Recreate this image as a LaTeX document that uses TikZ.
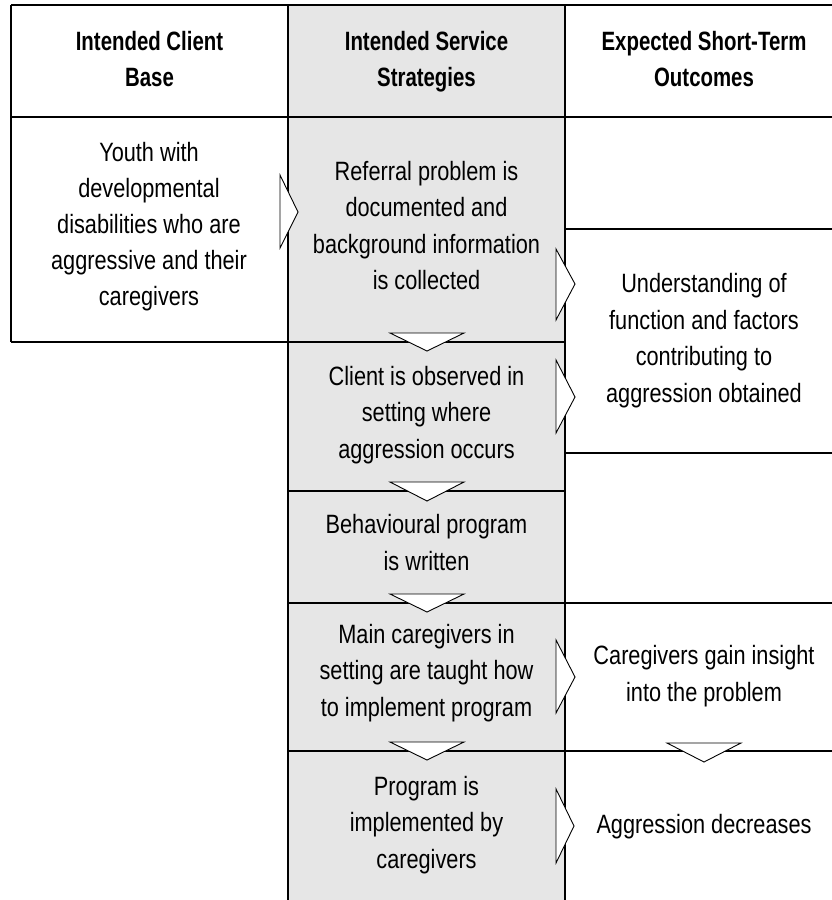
\documentclass[tikz,border=0pt]{standalone}
\usepackage{fontspec}
\setmainfont{Liberation Sans}[FakeStretch=0.82]
\newfontfamily\hdfont{Liberation Sans}[FakeStretch=0.77]
\definecolor{colgray}{RGB}{230,230,230}
\begin{document}
\begin{tikzpicture}[x=1pt,y=-1pt,
  rule/.style={line width=1.2pt,black},
  tri/.style={draw=black,fill=white,line width=0.9pt,line join=miter},
  body/.style={inner sep=0pt,align=center,anchor=base,
    font=\fontsize{26.5}{36.5}\selectfont},
  head/.style={inner sep=0pt,align=center,anchor=base,
    font=\hdfont\bfseries\fontsize{26.5}{36}\selectfont}]
\useasboundingbox[fill=white] (0,0) rectangle (832,900);
% middle column shading
\fill[colgray] (288,5) rectangle (565,900);
% frame lines
\draw[rule] (11,5) -- (832,5);
\draw[rule] (11,117) -- (832,117);
\draw[rule] (11,5) -- (11,342);
\draw[rule] (288,5) -- (288,900);
\draw[rule] (565,5) -- (565,900);
\draw[rule] (11,342) -- (565,342);
\draw[rule] (565,229) -- (832,229);
\draw[rule] (565,453) -- (832,453);
\draw[rule] (288,491) -- (565,491);
\draw[rule] (288,603) -- (832,603);
\draw[rule] (288,751) -- (832,751);
% headers (anchor = baseline of last line)
\node[head] (h1) at (149.5,86) {Intended Client\\Base};
\node[head] (h2) at (426.5,86) {Intended Service\\Strategies};
\node[head] (h3) at (704,86) {Expected Short-Term\\Outcomes};
% left column
\node[body,font=\fontsize{26.5}{36}\selectfont] (client) at (149,305)
  {Youth with\\developmental\\disabilities who are\\aggressive and their\\caregivers};
% middle column
\node[body] (s1) at (426.5,289.5) {Referral problem is\\documented and\\background information\\is collected};
\node[body] (s2) at (426.5,458) {Client is observed in\\setting where\\aggression occurs};
\node[body] (s3) at (426.5,570) {Behavioural program\\is written};
\node[body] (s4) at (426.5,716) {Main caregivers in\\setting are taught how\\to implement program};
\node[body] (s5) at (426.5,868) {Program is\\implemented by\\caregivers};
% right column
\node[body] (o1) at (704,402) {Understanding of\\function and factors\\contributing to\\aggression obtained};
\node[body] (o2) at (704,701) {Caregivers gain insight\\into the problem};
\node[body] (o3) at (704,833) {Aggression decreases};
% right-pointing chevrons
\draw[tri] (280,175) -- (298,212) -- (280,248) -- cycle;
\draw[tri] (556,249) -- (575,284) -- (556,320) -- cycle;
\draw[tri] (556,360) -- (575,397) -- (556,433) -- cycle;
\draw[tri] (556,640) -- (575,677) -- (556,713) -- cycle;
\draw[tri] (556,789) -- (574,826) -- (556,863) -- cycle;
% down-pointing chevrons
\draw[tri] (390,333) -- (427,351) -- (464,333) -- cycle;
\draw[tri] (390,482) -- (427,501) -- (464,482) -- cycle;
\draw[tri] (390,594) -- (427,612) -- (464,594) -- cycle;
\draw[tri] (390,742) -- (427,760) -- (464,742) -- cycle;
\draw[tri] (667,743) -- (704,762) -- (741,743) -- cycle;
\end{tikzpicture}
\end{document}
